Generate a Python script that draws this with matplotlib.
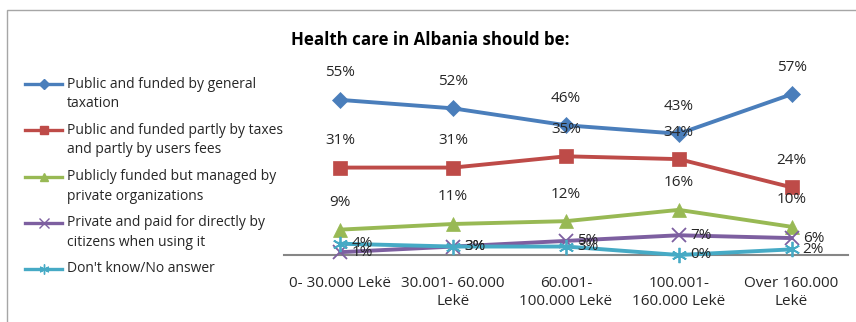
import matplotlib
matplotlib.use("Agg")
import matplotlib.pyplot as plt
from matplotlib.lines import Line2D
from matplotlib.patches import Rectangle

categories = ["0- 30.000 Lekë", "30.001- 60.000\nLekë", "60.001-\n100.000 Lekë",
              "100.001-\n160.000 Lekë", "Over 160.000\nLekë"]
series_names = ["Public and funded by general\ntaxation",
                "Public and funded partly by taxes\nand partly by users fees",
                "Publicly funded but managed by\nprivate organizations",
                "Private and paid for directly by\ncitizens when using it",
                "Don't know/No answer"]
public_general = [55, 52, 46, 43, 57]
public_partly = [31, 31, 35, 34, 24]
publicly_private = [9, 11, 12, 16, 10]
private_paid = [1, 3, 5, 7, 6]
dont_know = [4, 3, 3, 0, 2]
title = "Health care in Albania should be:"

values = [public_general, public_partly, publicly_private, private_paid, dont_know]
colors = ["#4A7EBB", "#BE4B48", "#98B954", "#7D5FA0", "#46AAC5"]
markers = ["D", "s", "^", "x", (6, 2, 0)]
msizes = [8, 9.5, 9.5, 10, 11]
label_pos = ["above", "above", "above", "right", "right"]

plt.rcParams['font.family'] = ['Open Sans', 'DejaVu Sans']
txt_color = "#262626"

fig = plt.figure(figsize=(8.56, 3.22), dpi=100)
W, H = 856, 322

# outer border
fig.add_artist(Rectangle((7 / W, -0.2), 2.0, (322 - 10) / H + 0.2, transform=fig.transFigure,
                         fill=False, edgecolor="#A6A6A6", linewidth=1.0))

ax = fig.add_axes([284 / W, 67 / H, 564 / W, 197.4 / H])
x = list(range(len(categories)))
for vals, c, m, ms, lp in zip(values, colors, markers, msizes, label_pos):
    thin = (m == "x") or isinstance(m, tuple)
    ax.plot(x, vals, color=c, linewidth=2.8, marker=m, markersize=ms,
            markeredgewidth=1.3 if thin else 0.5,
            markeredgecolor=c, markerfacecolor=c, clip_on=False, zorder=3)
    for xi, v in zip(x, vals):
        if lp == "above":
            ax.annotate(f"{v}%", (xi, v), xytext=(0, 19.5), textcoords="offset points",
                        ha="center", va="center", fontsize=11, color=txt_color)
        else:
            ax.annotate(f"{v}%", (xi, v), xytext=(8, 0), textcoords="offset points",
                        ha="left", va="center", fontsize=11, color=txt_color)

ax.set_xlim(-0.5, len(categories) - 0.5)
ax.set_ylim(0, 70)
for s in ["top", "right", "left"]:
    ax.spines[s].set_visible(False)
ax.spines["bottom"].set_color("#868686")
ax.spines["bottom"].set_linewidth(1.5)
ax.set_yticks([])
ax.set_xticks(x)
ax.set_xticklabels(categories, fontsize=11, color=txt_color, linespacing=1.3)
ax.tick_params(axis="x", length=0, pad=15)

fig.text(430 / W, 1 - 40 / H, title, ha="center", va="center", fontsize=12.2,
         fontweight="bold", color="#000000")

# legend
leg_y = [84, 130, 177, 223, 269]
for yy, name, c, m, ms in zip(leg_y, series_names, colors, markers, msizes):
    yf = 1 - yy / H
    fig.add_artist(Line2D([25 / W, 62 / W], [yf, yf], transform=fig.transFigure,
                          color=c, linewidth=2.4))
    fig.add_artist(Line2D([43.5 / W], [yf], transform=fig.transFigure, color=c,
                          marker=m, markersize=ms * 0.65, markeredgecolor=c,
                          markeredgewidth=1.0, linestyle="none"))
    lines = name.split("\n")
    for i, ln in enumerate(lines):
        fig.text(67 / W, 1 - (yy + i * 19.5) / H, ln, ha="left", va="center",
                 fontsize=10, color=txt_color)

fig.savefig("out.png", dpi=100, facecolor="white")
